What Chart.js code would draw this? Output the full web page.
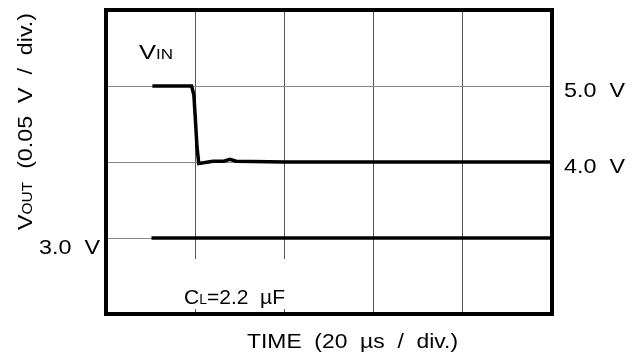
<!DOCTYPE html>
<html>
<head>
<meta charset="utf-8">
<script src="https://cdn.jsdelivr.net/npm/chart.js@4"></script>
<style>
  body { margin: 0; background: #fff; }
</style>
</head>
<body>
<canvas id="scopeChart" width="641" height="360"></canvas>
<script>
// time in divisions (20 us / div), voltage in divisions (0.05 V / div)
var vinTime = [0.52, 0.96, 0.985, 1.0, 1.02, 1.04, 1.20, 1.32, 1.39, 1.46, 2.0, 5.0];
var vinLevel = [3.0, 3.0, 2.88, 2.6, 2.2, 1.98, 2.01, 2.01, 2.035, 2.01, 2.0, 2.0];
var voutTime = [0.51, 5.0];
var voutLevel = [1.0, 1.0];

var xDivs = 5;
var yDivs = 4;

// level labels: [text, level, side]
var levelLabels = [['5.0  V', 3, 'right'], ['4.0  V', 2, 'right'], ['3.0  V', 1, 'left']];

var FONT = '"Liberation Sans", Arial, sans-serif';

// parts: [[text, size], ...] on one baseline, stretched to the given width
function stretchedText(ctx, parts, x, y, align, width) {
  ctx.save();
  var total = 0;
  parts.forEach(function(p) {
    ctx.font = p[1] + 'px ' + FONT;
    total += ctx.measureText(p[0]).width;
  });
  var sx = width / total;
  var start = align === 'right' ? -width : (align === 'center' ? -width / 2 : 0);
  ctx.translate(x + start, y);
  ctx.scale(sx, 1);
  ctx.textBaseline = 'alphabetic';
  ctx.textAlign = 'left';
  ctx.fillStyle = '#000';
  var cx = 0;
  parts.forEach(function(p) {
    ctx.font = p[1] + 'px ' + FONT;
    ctx.fillText(p[0], cx, 0);
    cx += ctx.measureText(p[0]).width;
  });
  ctx.restore();
}

var scopePlugin = {
  id: 'scopeFrame',
  afterDatasetsDraw: function(chart) {
    var ctx = chart.ctx;
    var a = chart.chartArea;
    var ys = chart.scales.y;

    // white patch behind the C_L note
    ctx.save();
    ctx.fillStyle = '#fff';
    ctx.fillRect(172, 259, 128, 50);
    ctx.restore();

    // frame
    ctx.save();
    ctx.strokeStyle = '#000';
    ctx.lineWidth = 4;
    ctx.strokeRect(a.left, a.top, a.right - a.left, a.bottom - a.top);
    ctx.restore();

    levelLabels.forEach(function(l) {
      var py = ys.getPixelForValue(l[1]);
      if (l[2] === 'right') {
        stretchedText(ctx, [[l[0], 21]], a.right + 12, py + 11, 'left', 61);
      } else {
        stretchedText(ctx, [[l[0], 21]], a.left - 6, py + 16, 'right', 61);
      }
    });

    stretchedText(ctx, [['V', 21], ['IN', 14]], 139, 59, 'left', 34);
    stretchedText(ctx, [['C', 21], ['L', 14], ['=2.2  \u00b5F', 21]], 184, 304, 'left', 101);
    stretchedText(ctx, [['TIME  (20  \u00b5s  /  div.)', 21]], 247, 348, 'left', 211);

    // rotated y title
    ctx.save();
    ctx.translate(32, 230);
    ctx.rotate(-Math.PI / 2);
    stretchedText(ctx, [['V', 21], ['OUT', 14], ['  (0.05  V  /  div.)', 21]], 0, 0, 'left', 217);
    ctx.restore();
  }
};

var ctx = document.getElementById('scopeChart').getContext('2d');
var chart = new Chart(ctx, {
  type: 'scatter',
  data: {
    datasets: [{
      label: 'VIN',
      data: vinTime.map(function(t, i) { return { x: t, y: vinLevel[i] }; }),
      showLine: true,
      borderColor: '#000',
      borderWidth: 3.5,
      pointRadius: 0,
      tension: 0,
      fill: false
    }, {
      label: 'VOUT',
      data: voutTime.map(function(t, i) { return { x: t, y: voutLevel[i] }; }),
      showLine: true,
      borderColor: '#000',
      borderWidth: 3.5,
      pointRadius: 0,
      tension: 0,
      fill: false
    }]
  },
  options: {
    responsive: false,
    animation: false,
    layout: { padding: { left: 106, right: 89, top: 10, bottom: 46 } },
    plugins: {
      legend: { display: false },
      tooltip: { enabled: false }
    },
    scales: {
      x: {
        type: 'linear',
        min: 0,
        max: xDivs,
        ticks: { display: false, stepSize: 1 },
        grid: { color: '#555', lineWidth: 1, drawTicks: false },
        border: { display: false }
      },
      y: {
        type: 'linear',
        min: 0,
        max: yDivs,
        ticks: { display: false, stepSize: 1 },
        grid: { color: '#888', lineWidth: 1, drawTicks: false },
        border: { display: false }
      }
    }
  },
  plugins: [scopePlugin]
});
</script>
</body>
</html>
